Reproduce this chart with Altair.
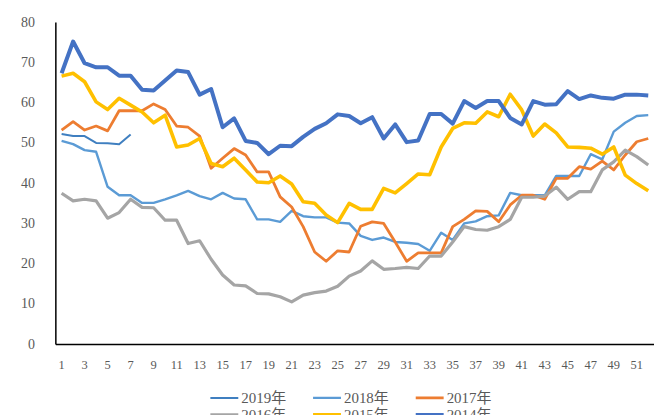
import altair as alt
import pandas as pd

weeks = list(range(1, 53))
years = ["2019年", "2018年", "2017年", "2016年", "2015年", "2014年"]
colors = ["#3F7FC0", "#5B9BD5", "#ED7D31", "#A5A5A5", "#FFC000", "#4472C4"]
widths = [2, 4, 4, 4, 4, 4]

s2019 = [52.3, 51.8, 51.8, 50.1, 50.0, 49.8, 52.2]
s2018 = [50.6, 49.8, 48.3, 47.9, 39.2, 37.1, 37.1, 35.2, 35.2, 36.1,
         37.1, 38.2, 36.9, 36.1, 37.7, 36.3, 36.1, 31.1, 31.1, 30.5,
         33.2, 31.9, 31.6, 31.6, 30.3, 30.1, 27.0, 26.0, 26.6, 25.5,
         25.3, 25.0, 23.3, 27.8, 26.0, 30.1, 30.6, 31.9, 32.1, 37.7,
         37.1, 37.1, 37.1, 41.9, 41.9, 41.9, 47.3, 46.0, 52.9, 55.1,
         56.8, 57.0]
s2017 = [53.3, 55.4, 53.3, 54.3, 53.1, 58.1, 58.1, 58.1, 59.8, 58.4,
         54.3, 54.0, 51.8, 43.8, 46.3, 48.7, 47.1, 42.9, 42.9, 36.7,
         34.2, 29.3, 23.0, 20.7, 23.3, 23.0, 29.4, 30.5, 30.1, 25.5,
         20.7, 22.8, 22.8, 22.8, 29.3, 31.1, 33.2, 33.1, 30.5, 34.7,
         37.1, 37.1, 36.1, 41.3, 41.3, 44.2, 43.6, 45.6, 43.4, 47.1,
         50.4, 51.2]
s2016 = [37.6, 35.7, 36.1, 35.7, 31.4, 32.8, 36.1, 34.1, 34.0, 30.9,
         30.9, 25.1, 25.8, 21.2, 17.3, 14.8, 14.6, 12.7, 12.6, 11.9,
         10.6, 12.3, 12.9, 13.3, 14.5, 17.0, 18.3, 20.8, 18.7, 18.9,
         19.2, 18.9, 22.0, 22.0, 25.5, 29.3, 28.6, 28.4, 29.3, 31.1,
         36.6, 36.6, 36.9, 39.1, 36.1, 38.0, 38.0, 43.4, 45.4, 48.3,
         46.7, 44.6]
s2015 = [66.7, 67.4, 65.3, 60.3, 58.4, 61.2, 59.5, 57.8, 55.1, 57.0,
         49.1, 49.6, 51.2, 45.0, 44.2, 46.3, 43.4, 40.4, 40.2, 41.9,
         39.9, 35.5, 35.1, 32.2, 30.3, 35.1, 33.6, 33.6, 38.8, 37.7,
         40.0, 42.4, 42.2, 49.1, 53.7, 55.1, 55.0, 57.8, 56.6, 62.2,
         58.3, 51.8, 54.8, 52.6, 49.1, 49.0, 48.8, 47.3, 49.1, 42.1,
         40.0, 38.2]
s2014 = [67.4, 75.3, 69.9, 68.9, 68.9, 66.8, 66.8, 63.3, 63.1, 65.6,
         68.1, 67.7, 62.1, 63.5, 54.0, 56.2, 50.6, 50.1, 47.3, 49.4,
         49.3, 51.6, 53.6, 55.0, 57.2, 56.8, 55.0, 56.5, 51.2, 54.7,
         50.3, 50.7, 57.3, 57.3, 54.9, 60.5, 58.8, 60.5, 60.5, 56.3,
         54.7, 60.5, 59.6, 59.7, 63.0, 61.0, 61.9, 61.3, 61.1, 62.1,
         62.1, 61.9]

x_ticks = list(range(1, 52, 2))
y_ticks = list(range(0, 81, 10))
x_domain = [0.5, 52.5]
y_domain = [0, 80]

series = [s2019, s2018, s2017, s2016, s2015, s2014]
rows = []
for name, vals in zip(years, series):
    for w, v in zip(weeks, vals):
        rows.append({"week": w, "value": v, "year": name})
df = pd.DataFrame(rows)

FONT = "Liberation Serif, Noto Sans CJK SC"
x_scale = alt.Scale(domain=x_domain, nice=False, zero=False)
y_scale = alt.Scale(domain=y_domain, nice=False)

lines = alt.Chart(df).mark_line(strokeJoin="round").encode(
    x=alt.X("week:Q", scale=x_scale, axis=None),
    y=alt.Y("value:Q", scale=y_scale, axis=None),
    color=alt.Color("year:N", scale=alt.Scale(domain=years, range=colors),
                    sort=years, legend=alt.Legend(title=None)),
    strokeWidth=alt.StrokeWidth("year:N", scale=alt.Scale(domain=years, range=widths),
                                sort=years, legend=alt.Legend(title=None)),
    detail="year:N",
)

x_lab_df = pd.DataFrame({"t": x_ticks, "z": [y_domain[0]] * len(x_ticks)})
x_labels = alt.Chart(x_lab_df).mark_text(
    font=FONT, fontSize=12.5, color="#595959", align="center", baseline="middle", dy=20
).encode(
    x=alt.X("t:Q", scale=x_scale, axis=None),
    y=alt.Y("z:Q", scale=y_scale, axis=None),
    text=alt.Text("t:Q", format="d"),
)

y_lab_df = pd.DataFrame({"v": y_ticks, "xl": [x_domain[0]] * len(y_ticks)})
y_labels = alt.Chart(y_lab_df).mark_text(
    font=FONT, fontSize=14, color="#595959", align="right", baseline="middle", dx=-21
).encode(
    x=alt.X("xl:Q", scale=x_scale, axis=None),
    y=alt.Y("v:Q", scale=y_scale, axis=None),
    text=alt.Text("v:Q", format="d"),
)

axis_src = pd.DataFrame({"x0": [x_domain[0]], "x1": [x_domain[1]],
                         "y0": [y_domain[0]], "y1": [y_domain[1]]})
x_axis_line = alt.Chart(axis_src).mark_rule(color="#000000", strokeWidth=1.5).encode(
    x=alt.X("x0:Q", scale=x_scale, axis=None), x2="x1:Q",
    y=alt.Y("y0:Q", scale=y_scale, axis=None))
y_axis_line = alt.Chart(axis_src).mark_rule(color="#000000", strokeWidth=1.5).encode(
    x=alt.X("x0:Q", scale=x_scale, axis=None),
    y=alt.Y("y0:Q", scale=y_scale, axis=None), y2="y1:Q")

chart = alt.layer(lines, x_labels, y_labels, x_axis_line, y_axis_line).properties(
    width=600, height=323,
    autosize=alt.AutoSizeParams(type="none"),
    padding={"left": 48, "top": 14, "right": 0, "bottom": 70},
).configure_view(
    stroke=None
).configure_legend(
    orient="none", legendX=155, legendY=368, columns=3, direction="horizontal",
    symbolType="M-3.333,0H3.333", symbolSize=144, clipHeight=17,
    labelFont=FONT, labelFontSize=15, labelColor="#595959",
    labelOffset=15, columnPadding=26, rowPadding=0, symbolOffset=0,
)

chart.save("out.html", embed_options={"renderer": "svg", "actions": False})
